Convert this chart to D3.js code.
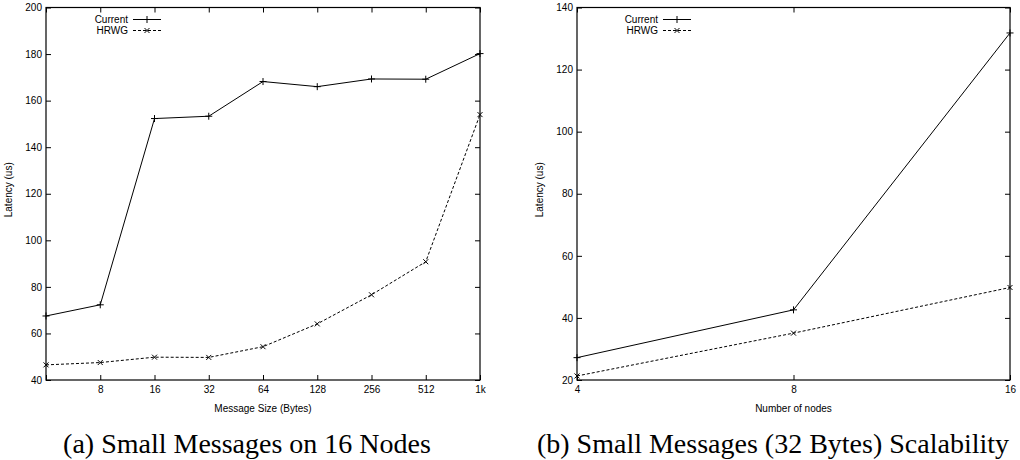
<!DOCTYPE html>
<html>
<head>
<meta charset="utf-8">
<script src="https://cdn.jsdelivr.net/npm/d3@7"></script>
<style>
  body { margin: 0; background: #fff; }
  svg text { font-family: "Liberation Sans", Arial, sans-serif; }
  svg text.caption { font-family: "Liberation Serif", "DejaVu Serif", serif; }
</style>
</head>
<body>
<svg id="chart" width="1020" height="460"></svg>
<script>
// left chart: small messages on 16 nodes
const msgSizes = [4, 8, 16, 32, 64, 128, 256, 512, 1024];
const msgLabels = ["", "8", "16", "32", "64", "128", "256", "512", "1k"];
const currentA = [67.5, 72.3, 152.3, 153.3, 168.2, 166, 169.3, 169.2, 180.2];
const hrwgA = [46.5, 47.5, 49.8, 49.7, 54.3, 64.1, 76.6, 90.8, 154];
const yTicksA = [40, 60, 80, 100, 120, 140, 160, 180, 200];

// right chart: 32 byte messages scalability
const nodeCounts = [4, 8, 16];
const nodeLabels = ["4", "8", "16"];
const currentB = [27.2, 42.6, 131.8];
const hrwgB = [21.3, 35.1, 49.8];
const yTicksB = [20, 40, 60, 80, 100, 120, 140];

const seriesNames = ["Current", "HRWG"];

const svg = d3.select("#chart");
const tick = 5;

function plus(g, x, y) {
  g.append("path").attr("d", `M${x-3.5},${y}H${x+3.5}M${x},${y-3.5}V${y+3.5}`)
    .attr("stroke", "#000").attr("stroke-width", 1).attr("fill", "none");
}
function cross(g, x, y) {
  g.append("path").attr("d", `M${x-2.5},${y-2.5}L${x+2.5},${y+2.5}M${x-2.5},${y+2.5}L${x+2.5},${y-2.5}`)
    .attr("stroke", "#000").attr("stroke-width", 1).attr("fill", "none");
}

function drawPanel(opt) {
  const { left, right, top, bottom, xs, xLabels, yDomain, yTicks, series, xTitle, caption, captionX, legendX } = opt;
  const g = svg.append("g");
  const x = d3.scaleLog().base(2).domain([xs[0], xs[xs.length - 1]]).range([left, right]);
  const y = d3.scaleLinear().domain(yDomain).range([bottom, top]);

  // axes, ticks pointing inwards like gnuplot
  g.append("g").attr("transform", `translate(0,${bottom})`)
    .call(d3.axisBottom(x).tickValues(xs).tickFormat((d, i) => xLabels[i]).tickSizeInner(-tick).tickSizeOuter(0).tickPadding(6));
  g.append("g").attr("transform", `translate(0,${top})`)
    .call(d3.axisTop(x).tickValues(xs).tickFormat("").tickSizeInner(-tick).tickSizeOuter(0));
  g.append("g").attr("transform", `translate(${left},0)`)
    .call(d3.axisLeft(y).tickValues(yTicks).tickSizeInner(-tick).tickSizeOuter(0).tickPadding(4));
  g.append("g").attr("transform", `translate(${right},0)`)
    .call(d3.axisRight(y).tickValues(yTicks).tickFormat("").tickSizeInner(-tick).tickSizeOuter(0));
  g.selectAll(".tick text").attr("font-size", 10).attr("fill", "#000")
    .attr("font-family", "Liberation Sans, Arial, sans-serif");
  g.selectAll(".domain").remove();
  g.selectAll(".tick line").attr("stroke", "#000");

  g.append("rect").attr("x", left).attr("y", top).attr("width", right - left).attr("height", bottom - top)
    .attr("fill", "none").attr("stroke", "#000").attr("stroke-width", 1.2);

  const line = d3.line().x(d => x(d[0])).y(d => y(d[1]));
  series.forEach((s, k) => {
    const pts = xs.map((v, i) => [v, s[i]]);
    g.append("path").datum(pts).attr("d", line)
      .attr("fill", "none").attr("stroke", "#000").attr("stroke-width", 1)
      .attr("stroke-dasharray", k === 1 ? "3,2" : null);
    pts.forEach(p => (k === 0 ? plus : cross)(g, x(p[0]), y(p[1])));
  });

  // legend
  seriesNames.forEach((name, k) => {
    const ly = top + 12 + k * 11;
    g.append("text").attr("x", legendX).attr("y", ly + 3.5).attr("text-anchor", "end")
      .attr("font-size", 10).text(name);
    g.append("line").attr("x1", legendX + 5).attr("x2", legendX + 33).attr("y1", ly).attr("y2", ly)
      .attr("stroke", "#000").attr("stroke-width", 1).attr("stroke-dasharray", k === 1 ? "3,2" : null);
    (k === 0 ? plus : cross)(g, legendX + 19, ly);
  });

  g.append("text").attr("transform", `translate(${left - 34},${(top + bottom) / 2 - 4}) rotate(-90)`)
    .attr("text-anchor", "middle").attr("font-size", 10).text("Latency (us)");
  g.append("text").attr("x", (left + right) / 2).attr("y", bottom + 32)
    .attr("text-anchor", "middle").attr("font-size", 10).text(xTitle);
  g.append("text").attr("class", "caption").attr("x", captionX).attr("y", 453)
    .attr("text-anchor", "middle").attr("font-size", 28).text(caption);
}

drawPanel({
  left: 46, right: 480, top: 7.5, bottom: 380,
  xs: msgSizes, xLabels: msgLabels, yDomain: [40, 200], yTicks: yTicksA,
  series: [currentA, hrwgA], xTitle: "Message Size (Bytes)",
  caption: "(a) Small Messages on 16 Nodes", captionX: 247, legendX: 128
});
drawPanel({
  left: 577, right: 1010, top: 7.5, bottom: 380,
  xs: nodeCounts, xLabels: nodeLabels, yDomain: [20, 140], yTicks: yTicksB,
  series: [currentB, hrwgB], xTitle: "Number of nodes",
  caption: "(b) Small Messages (32 Bytes) Scalability", captionX: 773, legendX: 658
});
</script>
</body>
</html>
